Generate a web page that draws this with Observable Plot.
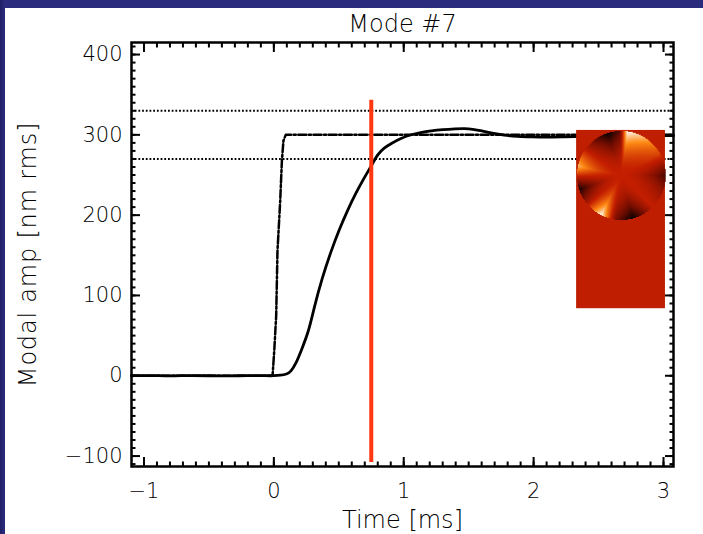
<!DOCTYPE html>
<html>
<head>
<meta charset="utf-8">
<script src="https://cdn.jsdelivr.net/npm/d3@7"></script>
<script src="https://cdn.jsdelivr.net/npm/@observablehq/plot@0.6"></script>
<style>
  html, body { margin: 0; padding: 0; }
  body { width: 703px; height: 534px; background: linear-gradient(90deg, #1f1f66 0px, #2b2b7d 5px); overflow: hidden; position: relative; }
  #panel { position: absolute; left: 5px; top: 8px; width: 698px; height: 526px; background: white; }
  #panel svg { display: block; }
  #panel svg text { font-weight: 300; }
</style>
</head>
<body>
<div id="panel"></div>
<script>
// ---- data ----
const titleText = ["Mode #7"];
const xTitle = ["Time [ms]"];
const yTitle = ["Modal amp [nm rms]"];

const xDomain = [-1.096, 3.077];
const yDomain = [-113, 415];
const xMajor = [-1, 0, 1, 2, 3];
const xMinor = d3.range(-10, 31).map(d => d / 10);
const yMajor = [-100, 0, 100, 200, 300, 400];
const yMinor = d3.range(-11, 42).map(d => d * 10);

// measured modal response (solid)
const measT = [-1.096, -0.95, -0.8, -0.65, -0.5, -0.35, -0.2, -0.05, 0, 0.05, 0.1, 0.13, 0.17, 0.21, 0.27, 0.31, 0.37, 0.44, 0.5, 0.57, 0.63, 0.69, 0.76, 0.8, 0.85, 0.9, 0.98, 1.05, 1.13, 1.21, 1.3, 1.4, 1.47, 1.53, 1.6, 1.68, 1.77, 1.88, 1.98, 2.1, 2.23, 2.4, 2.6, 2.8, 3.0, 3.077];
const measV = [0, 0.5, -0.5, 0.5, 0, -0.5, 0.5, 0, 0, 0.5, 2, 5, 15, 31, 56, 85, 121, 155, 181, 207, 227, 245, 264, 276, 284, 289, 296, 300, 303, 305, 306.5, 307.5, 308, 307, 305, 302, 299.5, 298, 297.5, 297, 297.5, 298, 299, 299, 299, 299];

// commanded step (dash-dot)
const cmdT = [-1.096, -0.01, 0.003, 0.018, 0.028, 0.049, 0.062, 0.074, 0.092, 3.077];
const cmdV = [0, 0, 31, 75, 156, 218, 268, 293, 300, 300];

// +/-10 % band (dotted)
const bandLevels = [330, 270];

// time marker (red)
const markerT = [0.75];
const markerY = [-108, 343];

// inset: mode shape picture
const insetBox = [{x1: 2.331, x2: 3.015, y1: 83.5, y2: 305.5}];
const insetCenter = [2.675, 249.4];
const insetRadius = [0.342, 55.5];
const insetAngles = [0, 30, 60, 82, 92, 108, 135, 168, 198, 218, 243, 262, 285, 315, 340, 360];
const insetLevels = [-0.7, 0.2, 0.7, 1.0, -0.6, -1.0, -0.3, 0.7, -0.9, -0.2, 1.0, -0.4, -1.0, 0.0, -0.3, -0.7];

// ---- build ----
const meas = measT.map((t, i) => ({t, v: measV[i]}));
const cmd = cmdT.map((t, i) => ({t, v: cmdV[i]}));
const angleLevel = d3.scaleLinear().domain(insetAngles).range(insetLevels);
const hot = d3.piecewise(d3.interpolateRgb, ["#000000", "#6e0c00", "#c41e00", "#ff8a14", "#ffffff"]);
const fmt = d => d < 0 ? "\u2212" + Math.abs(d) : String(d);
const FONT = "DejaVu Sans, Verdana, sans-serif";

const chart = Plot.plot({
  width: 698,
  height: 526,
  marginLeft: 126,
  marginRight: 30,
  marginTop: 34,
  marginBottom: 68,
  x: {domain: xDomain, label: null},
  y: {domain: yDomain, label: null},
  color: {type: "linear", domain: [-1, 1], interpolate: hot},
  style: {fontFamily: FONT, fontSize: "21px", background: "white", color: "black", overflow: "visible"},
  marks: [
    Plot.ruleY(bandLevels, {stroke: "black", strokeWidth: 2, strokeDasharray: "1.8,1.9"}),
    Plot.line(cmd, {x: "t", y: "v", stroke: "black", strokeWidth: 2.5, strokeDasharray: "8,2.5,2.2,2.5"}),
    Plot.line(meas, {x: "t", y: "v", stroke: "black", strokeWidth: 2.8, curve: "basis"}),
    Plot.ruleX(markerT, {y1: markerY[0], y2: markerY[1], stroke: "#ff3812", strokeWidth: 4}),
    Plot.rect(insetBox, {x1: "x1", x2: "x2", y1: "y1", y2: "y2", fill: "#bf1e00"}),
    Plot.raster({
      x1: insetCenter[0] - insetRadius[0], x2: insetCenter[0] + insetRadius[0],
      y1: insetCenter[1] - insetRadius[1], y2: insetCenter[1] + insetRadius[1],
      width: 89, height: 89,
      fill: (x, y) => {
        const u = (x - insetCenter[0]) / insetRadius[0];
        const v = (y - insetCenter[1]) / insetRadius[1];
        const r = Math.hypot(u, v);
        if (r > 1) return null;
        let a = Math.atan2(v, u) * 180 / Math.PI;
        if (a < 0) a += 360;
        return angleLevel(a) * Math.pow(r, 2);
      }
    }),
    Plot.frame({stroke: "black", strokeWidth: 2.5}),
    // inward ticks, all four sides
    Plot.axisX(xMajor, {anchor: "bottom", tickSize: -9, strokeWidth: 2, tickFormat: () => ""}),
    Plot.axisX(xMinor, {anchor: "bottom", tickSize: -4.5, strokeWidth: 2, tickFormat: () => ""}),
    Plot.axisX(xMajor, {anchor: "top", tickSize: -9, strokeWidth: 2, tickFormat: () => ""}),
    Plot.axisX(xMinor, {anchor: "top", tickSize: -4.5, strokeWidth: 2, tickFormat: () => ""}),
    Plot.axisY(yMajor, {anchor: "left", tickSize: -9, strokeWidth: 2, tickFormat: () => ""}),
    Plot.axisY(yMinor, {anchor: "left", tickSize: -4.5, strokeWidth: 2, tickFormat: () => ""}),
    Plot.axisY(yMajor, {anchor: "right", tickSize: -9, strokeWidth: 2, tickFormat: () => ""}),
    Plot.axisY(yMinor, {anchor: "right", tickSize: -4.5, strokeWidth: 2, tickFormat: () => ""}),
    // tick labels
    Plot.axisX(xMajor, {anchor: "bottom", tickSize: 0, tickPadding: 17, tickFormat: fmt, fontSize: 21}),
    Plot.axisY(yMajor, {anchor: "left", tickSize: 0, tickPadding: 9, tickFormat: fmt, fontSize: 21}),
    // titles
    Plot.text(titleText, {frameAnchor: "top", lineAnchor: "middle", textAnchor: "middle", dy: -18, fontSize: 24}),
    Plot.text(xTitle, {frameAnchor: "bottom", lineAnchor: "middle", textAnchor: "middle", dy: 54, fontSize: 24}),
    Plot.text(yTitle, {frameAnchor: "left", lineAnchor: "middle", textAnchor: "middle", dx: -103, rotate: -90, fontSize: 24})
  ]
});

d3.select(chart).selectAll("text").filter(function() {
  return this.textContent === yTitle[0];
}).attr("letter-spacing", "0.8px");

document.getElementById("panel").appendChild(chart);
</script>
</body>
</html>
